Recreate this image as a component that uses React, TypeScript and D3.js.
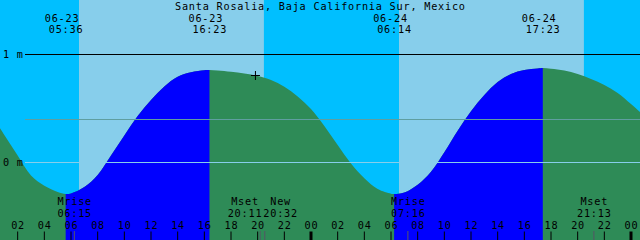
import React from "react";
import * as d3 from "d3";

const title = "Santa Rosalia, Baja California Sur, Mexico";
const dates = ["06-23", "06-24"];

// Hourly tide heights (m), starting 06-23 00:00
const tideHeights = [
  0.44, 0.25, 0.06, -0.125, -0.22, -0.277, -0.291, -0.232, -0.12, 0.06,
  0.245, 0.425, 0.574, 0.7, 0.79, 0.832, 0.85, 0.848, 0.836, 0.82,
  0.797, 0.76, 0.697, 0.607, 0.49, 0.333, 0.157, -0.014, -0.15, -0.25,
  -0.293, -0.282, -0.21, -0.09, 0.09, 0.29, 0.47, 0.62, 0.74, 0.815,
  0.852, 0.866, 0.863, 0.847, 0.815, 0.769, 0.713, 0.639, 0.537, 0.426,
];

// Tide extremes
const extremeDay = [0, 0, 1, 1];
const extremeTimes = ["05:36", "16:23", "06:14", "17:23"];
const extremeHeights = [-0.296, 0.852, -0.296, 0.87];
const extremeTypes = ["low", "high", "low", "high"];

// Sun
const sunriseTimes = ["06:36", "06:36"];
const sunsetTimes = ["20:28", "20:28"];

// Moon events
const moonDay = [0, 0, 0, 1, 1];
const moonTimes = ["06:15", "20:11", "20:32", "07:16", "21:13"];
const moonNames = ["Mrise", "Mset", "New", "Mrise", "Mset"];

const nowDay = 0;
const nowTime = "19:50";

const yTicks = [1, 0];
const meanLevel = 0.39;

const W = 640;
const H = 240;
const FONT = "'DejaVu Sans Mono', monospace";
const FS = 10.2;
const CHAR_W = 6.93;
const LS = CHAR_W - FS * 0.602;

const toHours = (day: number, hm: string) => {
  const [h, m] = hm.split(":").map(Number);
  return day * 24 + h + m / 60;
};

export default function App() {
  const x = d3.scaleLinear().domain([0.675, 48.675]).range([0, W]);
  const y = d3.scaleLinear().domain([0, 1]).range([162, 54]);

  const extremes = extremeTimes.map((t, i) => ({
    t: toHours(extremeDay[i], t),
    h: extremeHeights[i],
    type: extremeTypes[i],
    label: t,
    date: dates[extremeDay[i]],
  }));

  const pts = tideHeights
    .map((h, i) => ({ t: i, h }))
    .filter((p) => !extremes.some((e) => Math.abs(e.t - p.t) < 0.2))
    .concat(extremes.map((e) => ({ t: e.t, h: e.h })))
    .sort((a, b) => a.t - b.t);

  const area = d3
    .area<{ t: number; h: number }>()
    .x((d) => x(d.t))
    .y0(H)
    .y1((d) => y(d.h))
    .curve(d3.curveCatmullRom.alpha(0.5));

  // rising segments (low -> high) are blue
  const rising: [number, number][] = [];
  extremes.forEach((e, i) => {
    if (e.type === "low") {
      const next = extremes[i + 1];
      rising.push([e.t, next ? next.t : 49]);
    }
  });

  const days = sunriseTimes.map((s, i) => [toHours(i, s), toHours(i, sunsetTimes[i])]);

  const hourTicks = d3.range(2, 49, 2);

  // moon labels with overlap avoidance
  const moon = moonTimes.map((t, i) => ({
    t: toHours(moonDay[i], t),
    name: moonNames[i],
    time: t,
  }));
  const centers = moon.map((m) => x(m.t));
  const widths = moon.map((m) => Math.max(m.name.length, m.time.length) * CHAR_W + 1);
  for (let i = 0; i < moon.length - 1; i++) {
    const need = (widths[i] + widths[i + 1]) / 2;
    const gap = centers[i + 1] - centers[i];
    if (gap < need) {
      const mid = (centers[i] + centers[i + 1]) / 2;
      centers[i] = mid - need / 2;
      centers[i + 1] = mid + need / 2;
    }
  }

  const nowT = toHours(nowDay, nowTime);
  const lo = Math.floor(nowT);
  const nowH = tideHeights[lo] + (tideHeights[lo + 1] - tideHeights[lo]) * (nowT - lo);
  const nx = x(nowT);
  const ny = y(nowH);

  const T = (props: any) => (
    <text fill="#000" letterSpacing={LS} {...props} dx={props.textAnchor === "middle" ? LS / 2 : 0} />
  );

  return (
    <svg
      width={W}
      height={H}
      style={{ position: "absolute", left: 0, top: 0, display: "block" }}
      fontFamily={FONT}
      fontSize={FS}
    >
      <defs>
        <clipPath id="tideClip">
          <path d={area(pts) || ""} />
        </clipPath>
      </defs>
      <rect x={0} y={0} width={W} height={H} fill="#00bfff" />
      {days.map(([a, b], i) => (
        <rect key={i} x={x(a)} y={0} width={x(b) - x(a)} height={H} fill="#87ceeb" />
      ))}
      <g clipPath="url(#tideClip)">
        <rect x={0} y={0} width={W} height={H} fill="#2e8b57" />
        {rising.map(([a, b], i) => (
          <rect key={i} x={x(a)} y={0} width={x(b) - x(a)} height={H} fill="#0000ff" />
        ))}
      </g>

      {/* level lines */}
      <line x1={25} x2={W} y1={y(meanLevel)} y2={y(meanLevel)} stroke="#5f9ea0" strokeWidth={1} shapeRendering="crispEdges" />
      <line x1={25} x2={W} y1={y(0)} y2={y(0)} stroke="#87ceeb" strokeWidth={1} shapeRendering="crispEdges" />
      <line x1={25} x2={W} y1={y(1)} y2={y(1)} stroke="#000" strokeWidth={1} shapeRendering="crispEdges" />
      {yTicks.map((v) => (
        <T key={v} x={3} y={y(v) + 4}>
          {`${v} m`}
        </T>
      ))}

      {/* title and extremes */}
      <T x={W / 2} y={9.5} textAnchor="middle">
        {title}
      </T>
      {extremes.map((e, i) => (
        <g key={i}>
          <T x={x(e.t) - 4} y={21.5} textAnchor="middle">
            {e.date}
          </T>
          <T x={x(e.t)} y={33.3} textAnchor="middle">
            {e.label}
          </T>
        </g>
      ))}

      {/* now marker */}
      <line x1={nx - 4.5} x2={nx + 4.5} y1={ny} y2={ny} stroke="#000" strokeWidth={1} />
      <line x1={nx} x2={nx} y1={ny - 4.5} y2={ny + 4.5} stroke="#000" strokeWidth={1} />

      {/* moon events */}
      {moon.map((m, i) => (
        <g key={i}>
          <line x1={x(m.t)} x2={x(m.t)} y1={231} y2={H} stroke="#556" strokeWidth={1} />
          <T x={centers[i]} y={205} textAnchor="middle">
            {m.name}
          </T>
          <T x={centers[i]} y={217} textAnchor="middle">
            {m.time}
          </T>
        </g>
      ))}

      {/* hour ticks */}
      {hourTicks.map((t) => (
        <g key={t}>
          <line
            x1={x(t)}
            x2={x(t)}
            y1={231.5}
            y2={H}
            stroke="#000"
            strokeWidth={t % 24 === 0 ? 3 : 1}
          />
          <T x={x(t)} y={229} textAnchor="middle">
            {String(t % 24).padStart(2, "0")}
          </T>
        </g>
      ))}
    </svg>
  );
}
